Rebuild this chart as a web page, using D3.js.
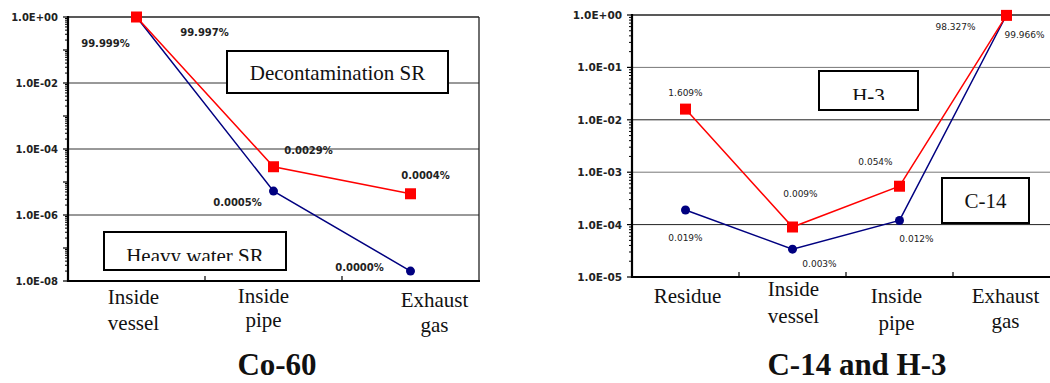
<!DOCTYPE html>
<html lang="en">
<head>
<meta charset="utf-8">
<title>Co-60, C-14 and H-3</title>
<script src="https://cdn.jsdelivr.net/npm/d3@7"></script>
<style>
  body { margin: 0; background: #fff; }
  svg { display: block; }
  .tick-label { font-family: "DejaVu Sans", sans-serif; font-weight: bold; font-size: 10px; fill: #222; }
  .serif { font-family: "Liberation Serif", "Times New Roman", serif; fill: #111; }
</style>
</head>
<body>
<div id="chart"></div>
<script>
// ---- Co-60 ----
var coCategories = ["Inside vessel", "Inside pipe", "Exhaust gas"];
var coDecon = [1, 2.9e-5, 4.4e-6];
var coHeavy = [1, 5.3e-6, 2e-8];
var coDeconLabels = ["99.997%", "0.0029%", "0.0004%"];
var coHeavyLabels = ["99.999%", "0.0005%", "0.0000%"];
var coTicks = ["1.0E+00", "1.0E-02", "1.0E-04", "1.0E-06", "1.0E-08"];

// ---- C-14 and H-3 ----
var c14Categories = ["Residue", "Inside vessel", "Inside pipe", "Exhaust gas"];
var h3Values = [1.6e-2, 9e-5, 5.4e-4, 0.98327];
var c14Values = [1.9e-4, 3.4e-5, 1.2e-4, 0.99966];
var h3Labels = ["1.609%", "0.009%", "0.054%", "98.327%"];
var c14Labels = ["0.019%", "0.003%", "0.012%", "99.966%"];
var c14Ticks = ["1.0E+00", "1.0E-01", "1.0E-02", "1.0E-03", "1.0E-04", "1.0E-05"];

var w = 1050, h = 383;
var svg = d3.select("#chart").append("svg").attr("width", w).attr("height", h);

function drawPanel(cfg) {
  var x = d3.scaleBand().domain(cfg.categories).range([cfg.left, cfg.right]).paddingInner(0).paddingOuter(0);
  var y = d3.scaleLog().domain([cfg.ymin, 1]).range([cfg.bottom, cfg.top]);
  var g = svg.append("g");

  var decades = d3.range(Math.round(Math.log10(cfg.ymin)), 1).map(function(k) { return Math.pow(10, k); });

  // grid lines
  g.selectAll(".grid").data(cfg.gridVals).enter().append("line")
    .attr("x1", cfg.left).attr("x2", cfg.right)
    .attr("y1", function(d) { return y(d); }).attr("y2", function(d) { return y(d); })
    .attr("stroke", function(d, i) { return cfg.gridColor(i); }).attr("stroke-width", 1);

  // frame top + right
  g.append("line").attr("x1", cfg.left).attr("x2", cfg.right).attr("y1", y(1)).attr("y2", y(1))
    .attr("stroke", "#222").attr("stroke-width", 1.3);
  g.append("line").attr("x1", cfg.right).attr("x2", cfg.right).attr("y1", y(1)).attr("y2", cfg.bottom)
    .attr("stroke", "#222").attr("stroke-width", 1.3);

  // minor log ticks
  var minor = [];
  decades.forEach(function(d) {
    if (d < 1) for (var m = 2; m <= 9; m++) minor.push(d * m);
  });
  g.selectAll(".minor").data(minor).enter().append("line")
    .attr("x1", cfg.left - 3).attr("x2", cfg.left + 1)
    .attr("y1", function(d) { return y(d); }).attr("y2", function(d) { return y(d); })
    .attr("stroke", "#000").attr("stroke-width", 1);
  g.selectAll(".major").data(decades).enter().append("line")
    .attr("x1", cfg.left - 5).attr("x2", cfg.left + 1)
    .attr("y1", function(d) { return y(d); }).attr("y2", function(d) { return y(d); })
    .attr("stroke", "#000").attr("stroke-width", 1.2);

  // axes lines
  g.append("line").attr("x1", cfg.left).attr("x2", cfg.left).attr("y1", y(1) - 1).attr("y2", cfg.bottom + 1)
    .attr("stroke", "#000").attr("stroke-width", 2.2);
  g.append("line").attr("x1", cfg.left - 1).attr("x2", cfg.right + 1).attr("y1", cfg.bottom).attr("y2", cfg.bottom)
    .attr("stroke", "#000").attr("stroke-width", 2.2);

  // category boundary ticks
  g.selectAll(".xtick").data(cfg.categories.slice(1)).enter().append("line")
    .attr("x1", function(d) { return x(d); }).attr("x2", function(d) { return x(d); })
    .attr("y1", cfg.bottom).attr("y2", cfg.bottom - 5)
    .attr("stroke", "#000").attr("stroke-width", 1.2);

  // y tick labels
  g.selectAll(".ylab").data(cfg.tickVals).enter().append("text")
    .attr("class", "tick-label")
    .attr("x", cfg.left - 10).attr("y", function(d) { return y(d) + 4; })
    .attr("text-anchor", "end").style("font-size", cfg.tickSize + "px")
    .text(function(d, i) { return cfg.tickLabels[i]; });

  // x labels
  cfg.categories.forEach(function(c, i) {
    var t = g.append("text").attr("class", "serif").attr("text-anchor", "middle")
      .style("font-size", "21px");
    var lines = c === "Residue" ? [c] : [c.split(" ")[0], c.split(" ").slice(1).join(" ")];
    lines.forEach(function(s, j) {
      t.append("tspan").attr("x", x(c) + x.bandwidth() / 2 + cfg.xlabDx[i])
        .attr("y", cfg.xlabY[i][j]).text(s);
    });
  });

  // boxes
  cfg.boxes.forEach(function(b, i) {
    var id = cfg.id + "clip" + i;
    svg.append("clipPath").attr("id", id).append("rect")
      .attr("x", b.x).attr("y", b.y).attr("width", b.w).attr("height", b.clip);
    g.append("rect").attr("x", b.x).attr("y", b.y).attr("width", b.w).attr("height", b.h)
      .attr("fill", "#fff").attr("stroke", "#000").attr("stroke-width", 2);
    g.append("text").attr("class", "serif").attr("clip-path", "url(#" + id + ")")
      .attr("x", b.x + b.w / 2).attr("y", b.ty).attr("text-anchor", "middle")
      .style("font-size", "21px").text(b.text);
  });

  var line = d3.line().x(function(d, i) { return x(cfg.categories[i]) + x.bandwidth() / 2; })
    .y(function(d) { return y(d); });

  // blue series
  g.append("path").datum(cfg.blue).attr("d", line).attr("fill", "none")
    .attr("stroke", "#000080").attr("stroke-width", 1.5);
  g.selectAll(".dot").data(cfg.blue).enter().append("circle")
    .attr("cx", function(d, i) { return x(cfg.categories[i]) + x.bandwidth() / 2; })
    .attr("cy", function(d) { return y(d); }).attr("r", 4.5).attr("fill", "#000080");

  // red series
  g.append("path").datum(cfg.red).attr("d", line).attr("fill", "none")
    .attr("stroke", "#ff0000").attr("stroke-width", 1.5);
  g.selectAll(".sq").data(cfg.red).enter().append("rect")
    .attr("x", function(d, i) { return x(cfg.categories[i]) + x.bandwidth() / 2 - 5.5; })
    .attr("y", function(d) { return y(d) - 5.5; }).attr("width", 11).attr("height", 11)
    .attr("fill", "#ff0000");

  // data labels
  function labels(vals, texts, offs) {
    g.selectAll(null).data(vals).enter().append("text")
      .attr("class", "tick-label").attr("text-anchor", "middle")
      .style("font-size", cfg.labSize + "px").style("font-weight", cfg.labWeight)
      .attr("x", function(d, i) { return x(cfg.categories[i]) + x.bandwidth() / 2 + offs[i][0]; })
      .attr("y", function(d, i) { return y(d) + offs[i][1]; })
      .text(function(d, i) { return texts[i]; });
  }
  labels(cfg.red, cfg.redLabels, cfg.redOff);
  labels(cfg.blue, cfg.blueLabels, cfg.blueOff);

  // title
  g.append("text").attr("class", "serif").attr("x", cfg.titleX).attr("y", 375)
    .attr("text-anchor", "middle").style("font-size", "31px").style("font-weight", "bold")
    .text(cfg.title);
}

drawPanel({
  id: "co", categories: coCategories, left: 68, right: 479, top: 17, bottom: 281, ymin: 1e-8,
  gridVals: [1e-2, 1e-4, 1e-6], gridColor: function() { return "#333"; },
  tickVals: [1, 1e-2, 1e-4, 1e-6, 1e-8], tickLabels: coTicks, tickSize: 10,
  xlabDx: [-3, -10, 24], xlabY: [[304, 330], [303, 327], [307, 332]],
  boxes: [
    { x: 227, y: 51, w: 221, h: 42, clip: 40, ty: 80, text: "Decontamination SR" },
    { x: 104, y: 232, w: 182, h: 38, clip: 29, ty: 263, text: "Heavy water SR" }
  ],
  red: coDecon, blue: coHeavy, redLabels: coDeconLabels, blueLabels: coHeavyLabels,
  redOff: [[68, 19], [35, -13], [15, -15]], blueOff: [[-31, 30], [-36, 15], [-51, 0]],
  labSize: 10, labWeight: "bold",
  title: "Co-60", titleX: 277
});

drawPanel({
  id: "c14", categories: c14Categories, left: 632, right: 1060, top: 15, bottom: 277, ymin: 1e-5,
  gridVals: [1e-1, 1e-2, 1e-3, 1e-4], gridColor: function(i) { return i % 2 ? "#222" : "#777"; },
  tickVals: [1, 1e-1, 1e-2, 1e-3, 1e-4, 1e-5], tickLabels: c14Ticks, tickSize: 10.5,
  xlabDx: [2, 1, -3, -1], xlabY: [[303], [296, 323], [303, 330], [303, 328]],
  boxes: [
    { x: 819, y: 71, w: 99, h: 39, clip: 29, ty: 103, text: "H-3" },
    { x: 942, y: 178, w: 87, h: 45, clip: 43, ty: 208, text: "C-14" }
  ],
  red: h3Values, blue: c14Values, redLabels: h3Labels, blueLabels: c14Labels,
  redOff: [[0, -13], [8, -30], [-24, -21], [-51, 15]], blueOff: [[0, 31], [27, 18], [17, 22], [18, 23]],
  labSize: 9, labWeight: "normal",
  title: "C-14 and H-3", titleX: 857
});
</script>
</body>
</html>
